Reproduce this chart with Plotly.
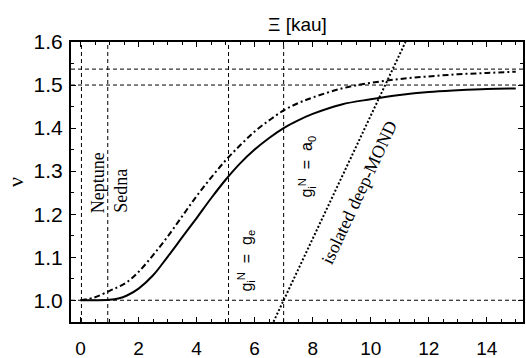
import plotly.graph_objects as go

# --- data ---
xi = [0, 0.5, 1.0, 1.3, 1.6, 2.0, 2.5, 3.0, 3.5, 4.0, 4.5, 5.0, 5.5, 6.0, 6.5,
      7.0, 7.5, 8.0, 9.0, 10.0, 11.0, 12.0, 13.0, 14.0, 15.0]
nu_solid = [1.000, 1.000, 1.001, 1.004, 1.011, 1.027, 1.058, 1.101, 1.146, 1.191,
            1.237, 1.280, 1.318, 1.350, 1.377, 1.400, 1.418, 1.433, 1.455, 1.467,
            1.477, 1.484, 1.488, 1.491, 1.492]
nu_dashdot = [1.000, 1.007, 1.022, 1.031, 1.042, 1.066, 1.105, 1.148, 1.195, 1.242,
              1.285, 1.325, 1.360, 1.392, 1.418, 1.441, 1.458, 1.471, 1.492, 1.505,
              1.514, 1.520, 1.525, 1.528, 1.531]
deep_mond_x = [6.65, 11.2]
deep_mond_nu = [0.95, 1.60]
vlines = [0.03, 0.937, 5.1, 7.0]
hlines = [1.0, 1.5, 1.537]
x_ticks = [0, 2, 4, 6, 8, 10, 12, 14]
y_ticks = [1.0, 1.1, 1.2, 1.3, 1.4, 1.5, 1.6]

XR = [-0.33, 15.25]
YR = [0.9495, 1.6]

fig = go.Figure()
ref_dash = "4px,3px"
for v in vlines:
    fig.add_trace(go.Scatter(x=[v, v], y=YR, mode="lines",
                             line=dict(color="black", width=1, dash=ref_dash),
                             hoverinfo="skip", showlegend=False))
for h in hlines:
    fig.add_trace(go.Scatter(x=XR, y=[h, h], mode="lines",
                             line=dict(color="black", width=1, dash=ref_dash),
                             hoverinfo="skip", showlegend=False))

fig.add_trace(go.Scatter(x=deep_mond_x, y=deep_mond_nu, mode="lines",
                         line=dict(color="black", width=2, dash="2px,2px"),
                         showlegend=False))
fig.add_trace(go.Scatter(x=xi, y=nu_dashdot, mode="lines", line_shape="spline",
                         line=dict(color="black", width=2, dash="6px,3px,2px,3px"),
                         showlegend=False))
fig.add_trace(go.Scatter(x=xi, y=nu_solid, mode="lines", line_shape="spline",
                         line=dict(color="black", width=2),
                         showlegend=False))

serif = "Liberation Serif"
sans = "Liberation Sans"
nb = "\u00a0"
ann = [
    dict(x=0.59, y=1.198, text="Neptune", textangle=-90, yanchor="bottom",
         font=dict(family=serif, size=18, color="black")),
    dict(x=1.38, y=1.198, text="Sedna", textangle=-90, yanchor="bottom",
         font=dict(family=serif, size=18, color="black")),
    dict(x=5.71, y=1.016, text="g<sub>i</sub><sup>N</sup>" + nb * 2 + "=" + nb * 2 + "g<sub>e</sub>",
         textangle=-90, yanchor="bottom", font=dict(family=sans, size=16, color="black")),
    dict(x=7.79, y=1.233, text="g<sub>i</sub><sup>N</sup>" + nb * 2 + "=" + nb * 2 + "a<sub>0</sub>",
         textangle=-90, yanchor="bottom", font=dict(family=sans, size=16, color="black")),
    dict(x=9.6, y=1.249, text="isolated deep-MOND", textangle=-65,
         font=dict(family=serif, size=18, color="black")),
]
for a in ann:
    fig.add_annotation(xref="x", yref="y", showarrow=False, **a)

fig.add_annotation(xref="paper", yref="paper", x=0.5, y=1.064, yanchor="middle",
                   xanchor="center", text="\u039e [kau]",
                   showarrow=False, font=dict(family=sans, size=19, color="black"))
fig.add_annotation(xref="paper", yref="paper", x=-0.124, y=0.5, text="\u03bd",
                   xanchor="center", yanchor="middle",
                   textangle=-90, showarrow=False, font=dict(family=serif, size=22, color="black"))

axis_common = dict(showgrid=False, zeroline=False, showline=True, linecolor="black",
                   linewidth=2, mirror="ticks", ticks="inside", tickcolor="black",
                   ticklen=5, tickwidth=1, automargin=False)
fig.update_xaxes(range=XR, tickvals=x_ticks, ticktext=[str(t) for t in x_ticks],
                 minor=dict(dtick=0.5, tick0=0, ticks="inside", ticklen=3, tickcolor="black"),
                 ticklabelstandoff=8, tickfont=dict(family=sans, size=19, color="black"),
                 **axis_common)
fig.update_yaxes(range=YR, tickvals=y_ticks, ticktext=[f"{t:.1f}" for t in y_ticks],
                 minor=dict(dtick=0.05, tick0=0, ticks="inside", ticklen=3, tickcolor="black"),
                 ticklabelstandoff=2, tickfont=dict(family=sans, size=21, color="black"),
                 **axis_common)

fig.update_layout(width=526, height=358, margin=dict(l=71, r=3, t=42, b=36, autoexpand=False),
                  plot_bgcolor="white", paper_bgcolor="white")
fig.write_html("out.html")
